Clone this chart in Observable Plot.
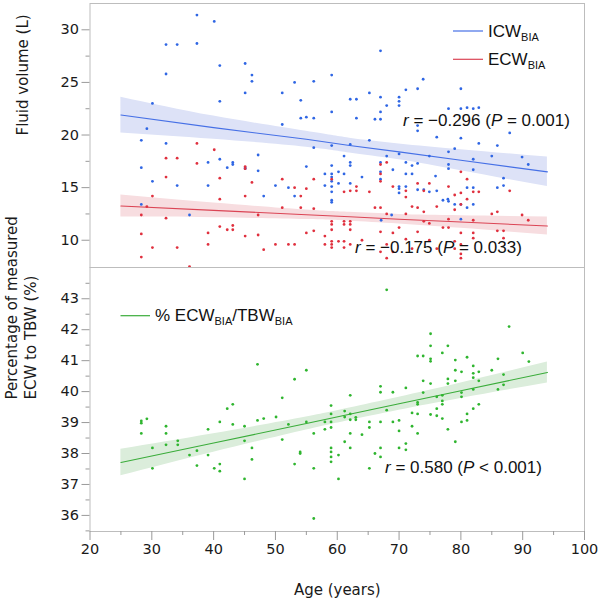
<!DOCTYPE html>
<html>
<head>
<meta charset="utf-8">
<script src="https://cdn.jsdelivr.net/npm/d3@7"></script>
<script src="https://cdn.jsdelivr.net/npm/@observablehq/plot@0.6"></script>
<style>
  body { margin: 0; background: #fff; }
  #chart { position: relative; width: 600px; height: 604px; }
  #chart > svg { display: block; }
  #overlay { position: absolute; left: 0; top: 0; pointer-events: none; }
</style>
</head>
<body>
<div id="chart"></div>
<script>
// ---- data ----
// ICW (blue) — age, litres
const icwAges = [
  37.3, 40.1, 32.3, 34.1, 37.3, 32.3, 41.0, 45.1, 46.2, 46.2, 45.1, 41.0, 30.1, 51.1, 53.1, 56.2,
  54.1, 51.1, 54.1, 55.0, 56.2, 56.2, 29.2, 28.3, 32.3, 28.3, 30.1, 34.1, 36.1, 28.3, 39.1, 39.1,
  41.0, 42.2, 43.1, 43.1, 45.1, 45.1, 47.2, 47.2, 48.1, 50.0, 52.1, 53.1, 55.0, 58.0, 58.0,
  59.1, 67.0, 62.1, 63.1, 65.2, 67.0, 68.0, 70.0, 70.0, 70.0, 71.1, 73.0, 73.9, 59.1, 63.1, 66.1,
  67.0, 67.0, 73.0, 73.0, 76.1, 59.1, 62.1, 65.2, 61.1, 62.1, 62.1, 59.1, 67.0, 68.0, 70.0, 71.1,
  72.1, 73.0, 74.9, 59.1, 59.1, 60.2, 61.1, 59.1, 59.1, 59.1, 59.1, 59.1, 60.2, 62.1, 64.0, 67.0,
  69.0, 71.1, 72.1, 75.9, 67.0, 70.0, 70.0, 70.0, 71.1, 73.0, 74.0, 74.9, 76.1, 77.1, 67.1, 68.8, 77.9,
  80.0, 78.0, 80.0, 81.0, 82.0, 82.9, 87.9, 80.0, 82.9, 85.9, 79.0, 78.0, 85.0, 82.0, 89.9, 90.9,
  78.0, 78.0, 82.0, 86.9, 81.0, 82.0, 85.9, 86.9, 78.0, 79.0, 80.0, 81.0, 82.0, 80.0
];
const icwValues = [
  31.4, 30.8, 28.6, 28.6, 28.7, 25.8, 26.6, 26.8, 25.7, 25.1, 24.0, 23.2, 23.0, 24.0, 25.0, 25.1,
  23.3, 21.0, 21.6, 21.7, 21.6, 18.8, 20.6, 19.5, 19.2, 16.9, 15.6, 15.2, 12.4, 13.4, 17.4, 15.2,
  17.7, 16.9, 17.4, 17.2, 16.9, 16.8, 18.1, 16.6, 14.2, 15.2, 15.0, 14.2, 17.0, 16.3, 15.2,
  25.7, 28.0, 23.4, 23.4, 24.0, 23.6, 22.8, 23.6, 23.2, 22.8, 24.3, 24.4, 25.3, 22.2, 21.6, 21.5,
  21.5, 22.2, 20.9, 20.4, 19.8, 19.0, 19.1, 19.5, 18.0, 17.4, 17.1, 17.1, 17.4, 18.0, 18.2, 17.4,
  17.1, 17.3, 18.0, 16.3, 16.0, 16.5, 16.3, 15.6, 15.1, 14.6, 13.8, 13.6, 15.4, 15.4, 16.0, 16.5,
  16.7, 16.3, 16.3, 16.1, 15.8, 15.1, 14.9, 14.5, 15.1, 14.8, 14.8, 14.6, 14.7, 13.8, 11.9, 12.4, 13.9,
  24.4, 22.5, 22.5, 22.6, 22.5, 22.6, 20.2, 19.7, 19.2, 19.0, 18.7, 18.4, 18.0, 17.7, 17.9, 17.2,
  17.2, 16.8, 16.7, 15.9, 15.0, 15.0, 15.0, 15.2, 13.7, 13.4, 13.4, 13.1, 13.4, 12.0
];

// ECW (red) — age, litres
const ecwAges = [
  37.3, 40.1, 32.3, 34.1, 37.3, 45.1, 45.1, 32.3, 41.0, 46.2, 30.1, 41.0, 45.1, 51.1, 53.1, 54.1,
  55.0, 56.2, 51.1, 54.1, 56.2, 28.3, 29.2, 32.3, 47.2, 28.3, 30.1, 28.3, 34.1, 36.1, 39.1, 39.1,
  41.0, 42.2, 43.1, 43.1, 45.1, 47.2, 48.1, 50.0, 52.1, 53.1, 55.0, 56.2, 58.0, 58.0,
  67.0, 68.0, 67.0, 67.0, 59.1, 62.1, 63.1, 63.1, 65.2, 61.1, 69.0, 71.1, 71.1, 73.0, 74.9, 74.0,
  66.1, 67.0, 68.0, 71.1, 72.1, 73.0, 74.0, 76.1, 59.1, 59.1, 61.1, 61.1, 62.1, 62.1, 62.1, 59.1,
  67.0, 69.0, 70.0, 73.0, 74.0, 74.9, 59.1, 59.1, 59.1, 60.2, 61.1, 61.1, 62.1, 64.0, 67.0, 68.0,
  68.0, 69.0, 71.1, 72.1, 74.9, 76.1, 77.1,
  80.0, 81.0, 78.0, 82.0, 79.0, 80.0, 81.0, 80.0, 82.9, 87.9, 79.0, 78.0, 82.0, 85.0, 85.9, 89.9,
  90.9, 78.0, 80.0, 82.0, 82.0, 85.9, 86.9, 86.9, 79.0, 80.0, 80.0, 79.0, 80.0
];
const ecwValues = [
  19.2, 18.6, 17.8, 17.8, 17.3, 17.0, 16.8, 16.0, 15.9, 15.5, 14.2, 13.9, 14.2, 15.8, 15.0, 14.2,
  14.9, 15.8, 13.1, 13.1, 13.0, 12.4, 13.2, 12.1, 12.4, 10.6, 9.3, 8.4, 9.3, 7.5, 10.7, 9.6,
  11.3, 11.0, 11.4, 11.0, 10.4, 10.5, 9.1, 9.6, 9.6, 9.6, 10.7, 10.9, 10.4, 9.6,
  17.2, 17.4, 16.3, 15.6, 15.8, 14.7, 15.1, 14.7, 14.6, 14.6, 15.1, 14.7, 14.1, 15.4, 15.4, 14.7,
  13.1, 13.1, 12.5, 12.5, 13.2, 13.1, 12.7, 13.2, 11.8, 11.5, 11.8, 11.5, 11.8, 11.5, 11.0, 11.0,
  10.8, 10.7, 11.2, 10.8, 11.8, 11.6, 9.9, 9.6, 9.3, 9.9, 9.9, 9.3, 9.6, 10.0, 8.9, 9.6,
  8.3, 8.9, 10.1, 9.2, 10.0, 9.2, 11.2,
  16.5, 15.8, 15.1, 14.6, 14.3, 14.5, 13.9, 13.4, 14.6, 14.7, 12.9, 12.0, 11.9, 12.5, 12.7, 12.4,
  11.9, 11.2, 10.7, 10.7, 10.2, 10.9, 10.9, 10.2, 9.9, 9.6, 8.7, 9.2, 8.3
];

// % ECW/TBW (green) — age, percent
const pctAges = [
  28.3, 28.3, 29.2, 28.3, 30.1, 30.1, 32.3, 32.3, 32.3, 34.2, 34.2, 36.1, 37.3, 37.3, 39.1, 39.1,
  40.1, 41.0, 41.0, 41.0, 42.2, 43.1, 43.1, 45.0, 45.0, 45.0, 46.2, 46.2, 47.1, 47.1,
  48.1, 50.1, 51.1, 51.1, 52.1, 53.1, 53.1, 54.0, 54.0, 55.0, 55.0, 56.2, 56.2, 56.2, 58.0, 58.0,
  59.0, 59.0, 59.0, 59.0, 59.0, 59.0, 59.0, 59.0, 60.2, 60.2, 61.2, 61.2, 61.2, 62.1, 62.1, 62.1,
  62.1, 62.1, 63.0, 63.0, 64.0, 65.2, 65.2, 65.2, 66.1, 67.0, 67.0, 67.0, 67.0, 67.0, 68.0, 68.0,
  69.0, 69.0, 70.0, 70.0, 70.0, 71.1, 71.1, 71.1, 72.1, 72.1, 73.0, 73.0, 73.0, 73.0, 73.0,
  73.9, 73.9, 73.9, 75.1, 75.1, 75.1, 75.1, 75.1, 75.1, 76.1, 76.1, 76.1, 77.0, 77.0, 77.0, 77.0,
  77.0, 77.9, 77.9, 77.9, 77.9, 79.1, 79.1, 79.1, 79.1, 80.1, 80.1, 80.1, 80.1, 81.0, 81.0, 81.0,
  82.0, 82.0, 82.0, 82.0, 82.0, 82.9, 82.9, 82.9, 85.0, 86.0, 86.0, 86.9, 86.9, 87.8, 90.0, 91.0
];
const pctValues = [
  39.05, 38.98, 39.12, 38.65, 38.18, 37.52, 38.88, 38.65, 38.28, 38.41, 38.28, 37.95, 38.09, 37.61, 38.78, 37.95,
  37.52, 39.02, 37.66, 37.43, 39.45, 39.59, 38.94, 38.88, 38.41, 37.18, 38.18, 37.81, 40.88, 39.07,
  39.13, 39.18, 39.80, 38.45, 38.94, 40.40, 37.66, 38.05, 38.00, 40.69, 39.02, 38.65, 37.52, 35.90, 39.02, 38.78,
  39.55, 39.28, 39.02, 38.84, 38.18, 38.05, 37.89, 37.73, 37.95, 37.18, 39.37, 39.18, 38.38, 39.88, 39.28, 39.09,
  38.65, 38.18, 39.17, 39.09, 38.61, 39.02, 38.84, 37.52, 38.00, 40.17, 39.98, 39.02, 38.18, 37.89, 43.29, 39.40,
  39.98, 39.02, 39.07, 38.73, 38.18, 40.12, 38.32, 38.12, 39.31, 38.88, 41.15, 39.65, 39.59, 39.28, 38.65,
  41.15, 40.35, 39.97, 41.87, 41.48, 41.06, 40.98, 40.26, 39.26, 39.83, 39.45, 39.22, 41.25, 39.88, 39.70, 39.59,
  39.13, 41.48, 40.41, 40.26, 38.78, 41.02, 40.69, 40.35, 38.38, 40.64, 39.97, 39.83, 39.02, 41.11, 39.28, 39.07,
  40.83, 40.59, 40.45, 40.07, 39.45, 40.64, 40.35, 39.59, 40.69, 41.06, 40.07, 40.55, 40.22, 42.10, 41.25, 40.97
];

// fitted lines with 95% bands, read at these ages
const fitAges  = [25, 40, 55, 62, 70, 80, 94];
const icwFit   = [21.9, 20.7, 19.6, 19.0, 18.4, 17.6, 16.5];
const icwLower = [20.2, 19.6, 18.85, 18.3, 17.65, 16.6, 15.1];
const icwUpper = [23.6, 21.8, 20.35, 19.7, 19.15, 18.6, 17.9];
const ecwFit   = [13.25, 12.84, 12.42, 12.23, 12.0, 11.73, 11.35];
const ecwLower = [12.2, 12.14, 11.97, 11.81, 11.55, 11.13, 10.5];
const ecwUpper = [14.3, 13.54, 12.87, 12.65, 12.45, 12.33, 12.2];
const pctFit   = [37.71, 38.34, 38.97, 39.27, 39.61, 40.03, 40.62];
const pctLower = [37.28, 38.04, 38.76, 39.07, 39.40, 39.78, 40.28];
const pctUpper = [38.14, 38.64, 39.18, 39.47, 39.82, 40.28, 40.96];

// axis ticks
const xTicks   = [20, 30, 40, 50, 60, 70, 80, 90, 100];
const xMinor   = [25, 35, 45, 55, 65, 75, 85, 95];
const volTicks = [10, 15, 20, 25, 30];
const volMinor = [12.5, 17.5, 22.5, 27.5];
const pctTicks = [36, 37, 38, 39, 40, 41, 42, 43];
const pctMinor = [35.5, 36.5, 37.5, 38.5, 39.5, 40.5, 41.5, 42.5, 43.5];

// ---- styling ----
const BLUE = "#2f66e4", BLUE_LINE = "#4670e6", BLUE_BAND = "#dde2f7";
const RED = "#e0303e", RED_LINE = "#db4555", RED_BAND = "#f7dde0";
const GREEN = "#2fb52f", GREEN_LINE = "#3aac3a", GREEN_BAND = "#dbeddb";
const AXIS = "#9a9a9a", FRAME = "#bdbdbd", INK = "#1a1a1a";

const pts = (ages, vals) => ages.map((age, i) => ({age, v: vals[i]}));
const band = (fit, lo, hi) => fitAges.map((age, i) => ({age, fit: fit[i], lo: lo[i], hi: hi[i]}));

const icw = pts(icwAges, icwValues);
const ecw = pts(ecwAges, ecwValues);
const pct = pts(pctAges, pctValues);
const icwBand = band(icwFit, icwLower, icwUpper);
const ecwBand = band(ecwFit, ecwLower, ecwUpper);
const pctBand = band(pctFit, pctLower, pctUpper);

const style = {fontFamily: "'DejaVu Sans', sans-serif", fontSize: "14.5px", color: INK, background: "transparent", overflow: "visible"};
const ML = 89.5, MR = 16;

const topPlot = Plot.plot({
  width: 600, height: 267,
  marginLeft: ML, marginRight: MR, marginTop: 3, marginBottom: 0,
  x: {domain: [20, 100], axis: null},
  y: {domain: [7.41, 32.5]},
  style,
  marks: [
    Plot.areaY(icwBand, {x: "age", y1: "lo", y2: "hi", fill: BLUE_BAND, curve: "natural"}),
    Plot.areaY(ecwBand, {x: "age", y1: "lo", y2: "hi", fill: RED_BAND, curve: "natural"}),
    Plot.line(icwBand, {x: "age", y: "fit", stroke: BLUE_LINE, strokeWidth: 1.1}),
    Plot.line(ecwBand, {x: "age", y: "fit", stroke: RED_LINE, strokeWidth: 1.1}),
    Plot.dot(icw, {x: "age", y: "v", r: 1.4, fill: BLUE}),
    Plot.dot(ecw, {x: "age", y: "v", r: 1.4, fill: RED}),
    Plot.frame({stroke: FRAME}),
    Plot.axisY({ticks: volTicks, tickSize: 8, tickPadding: 3, stroke: AXIS, label: null, fontSize: 14.5}),
    Plot.axisY({ticks: volMinor, tickSize: 4, tickFormat: () => "", stroke: AXIS, label: null}),
    Plot.text(["Fluid volume (L)"], {frameAnchor: "left", dx: -72.5, rotate: -90, lineAnchor: "top", fontSize: 15, fill: INK})
  ]
});

const bottomPlot = Plot.plot({
  width: 600, height: 337,
  marginLeft: ML, marginRight: MR, marginTop: 0, marginBottom: 73,
  x: {domain: [20, 100]},
  y: {domain: [35.48, 44.01]},
  style,
  marks: [
    Plot.areaY(pctBand, {x: "age", y1: "lo", y2: "hi", fill: GREEN_BAND, curve: "natural"}),
    Plot.line(pctBand, {x: "age", y: "fit", stroke: GREEN_LINE, strokeWidth: 1.1}),
    Plot.dot(pct, {x: "age", y: "v", r: 1.4, fill: GREEN}),
    Plot.frame({stroke: FRAME}),
    Plot.axisY({ticks: pctTicks, tickSize: 8, tickPadding: 3, stroke: AXIS, label: null, fontSize: 14.5}),
    Plot.axisY({ticks: pctMinor, tickSize: 4, tickFormat: () => "", stroke: AXIS, label: null}),
    Plot.axisX({ticks: xTicks, tickSize: 9, tickPadding: 3, stroke: AXIS, label: null, fontSize: 14.5}),
    Plot.axisX({ticks: xMinor, tickSize: 4, tickFormat: () => "", stroke: AXIS, label: null}),
    Plot.text(["Percentage of measured\nECW to TBW (%)"], {frameAnchor: "left", dx: -86.5, rotate: -90, lineAnchor: "top", lineHeight: 1.25, fontSize: 15, fill: INK}),
    Plot.text(["Age (years)"], {frameAnchor: "bottom", dy: 63, lineAnchor: "bottom", fontSize: 15, fill: INK})
  ]
});

const chart = document.getElementById("chart");
chart.appendChild(topPlot);
chart.appendChild(bottomPlot);

// ---- legends and r annotations (overlay, pixel layout) ----
const overlay = d3.select(chart).append("svg")
  .attr("id", "overlay").attr("width", 600).attr("height", 604)
  .attr("font-family", "'Liberation Sans', Arial, sans-serif").attr("font-size", 17);

function richText(x, y, parts) {
  const t = overlay.append("text").attr("x", x).attr("y", y).attr("fill", "#111");
  let shift = 0;
  for (const [s, kind] of parts) {
    const ts = t.append("tspan").text(s);
    const want = kind === "sub" ? 4 : 0;
    if (want !== shift) { ts.attr("dy", want - shift); shift = want; }
    if (kind === "sub") ts.attr("font-size", 11);
    if (kind === "i") ts.attr("font-style", "italic");
  }
}

const legends = [
  {x1: 453, x2: 483, y: 31, color: BLUE_LINE, parts: [["ICW"], ["BIA", "sub"]]},
  {x1: 453, x2: 483, y: 59.3, color: RED_LINE, parts: [["ECW"], ["BIA", "sub"]]},
  {x1: 120.5, x2: 150, y: 315.7, color: GREEN_LINE, parts: [["% ECW"], ["BIA", "sub"], ["/TBW"], ["BIA", "sub"]]}
];
for (const l of legends) {
  overlay.append("line").attr("x1", l.x1).attr("x2", l.x2).attr("y1", l.y).attr("y2", l.y)
    .attr("stroke", l.color).attr("stroke-width", 1.2);
  richText(l.x2 + 5, l.y + 5.6, l.parts);
}

richText(403, 126, [["r", "i"], [" = \u22120.296 ("], ["P", "i"], [" = 0.001)"]]);
richText(355, 253, [["r", "i"], [" = \u22120.175 ("], ["P", "i"], [" = 0.033)"]]);
richText(385, 473, [["r", "i"], [" = 0.580 ("], ["P", "i"], [" < 0.001)"]]);
</script>
</body>
</html>
